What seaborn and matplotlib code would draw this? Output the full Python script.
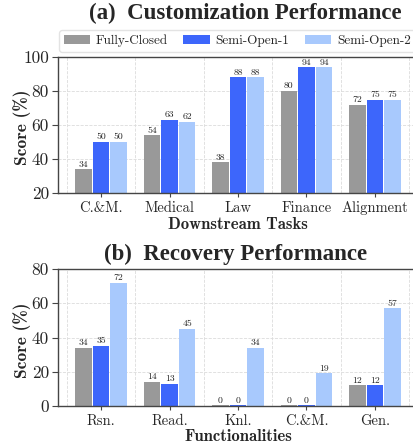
import matplotlib
matplotlib.use("Agg")
import matplotlib.pyplot as plt
import seaborn as sns
import pandas as pd
from matplotlib.ticker import MultipleLocator, FixedLocator, FuncFormatter

# ---- data ----
methods = ["Fully-Closed", "Semi-Open-1", "Semi-Open-2"]
colors = ["#999999", "#3d66fb", "#a8c9fd"]

tasks = ["C.&M.", "Medical", "Law", "Finance", "Alignment"]
custom_closed = [34, 54, 38, 80, 72]
custom_semi1 = [50, 63, 88, 94, 75]
custom_semi2 = [50, 62, 88, 94, 75]

funcs = ["Rsn.", "Read.", "Knl.", "C.&M.", "Gen."]
recov_closed = [34, 14, 0.45, 0.45, 12]
recov_semi1 = [35, 13, 0.45, 0.45, 12]
recov_semi2 = [72, 45, 34, 19, 57]


def long_frame(cats, *series):
    rows = []
    for name, vals in zip(methods, series):
        for c, v in zip(cats, vals):
            rows.append({"cat": c, "method": name, "score": v})
    return pd.DataFrame(rows)


df_a = long_frame(tasks, custom_closed, custom_semi1, custom_semi2)
df_b = long_frame(funcs, recov_closed, recov_semi1, recov_semi2)

sns.set_theme(style="white")
plt.rcParams["font.family"] = ["cmr10", "DejaVu Serif"]
plt.rcParams["axes.formatter.use_mathtext"] = True

W, H = 413, 447
fig = plt.figure(figsize=(W / 100, H / 100), dpi=100)


def px_axes(left, top, right, bottom):
    return fig.add_axes([left / W, 1 - bottom / H, (right - left) / W, (bottom - top) / H])


ax_a = px_axes(58, 57, 418, 193)
ax_b = px_axes(58, 269, 418, 406)

spine_c = "#454545"


def draw(ax, df, cats, ylim, ystep, xlabel):
    sns.barplot(data=df, x="cat", y="score", hue="method", order=cats,
                hue_order=methods, palette=colors, width=0.77, gap=0.06, ax=ax,
                linewidth=0, saturation=1, legend=False)
    for cont in ax.containers:
        ax.bar_label(cont, fmt="{:.0f}", padding=0.5, fontsize=7,
                     family="cmr10", color="#222222")
    ax.set_xlim(-0.63, 4.63)
    ax.set_ylim(*ylim)
    ax.yaxis.set_major_locator(MultipleLocator(ystep))
    ax.yaxis.set_major_formatter(FuncFormatter(lambda v, p: f"{v:.0f}"))
    ax.xaxis.set_minor_locator(FixedLocator([i + 0.5 for i in range(-1, 5)]))
    ax.grid(True, axis="y", which="major", linestyle="--", color="#dcdcdc", linewidth=0.6)
    ax.grid(True, axis="x", which="minor", linestyle="--", color="#dcdcdc", linewidth=0.6)
    ax.set_axisbelow(True)
    for s in ax.spines.values():
        s.set_color(spine_c)
        s.set_linewidth(1.0)
    ax.tick_params(axis="x", which="major", bottom=True, length=3, width=0.8,
                   color=spine_c, labelsize=10.5, pad=3)
    ax.tick_params(axis="x", which="minor", bottom=False)
    ax.tick_params(axis="y", left=True, length=4, width=0.8, color=spine_c,
                   labelsize=12.5, pad=2.5)
    ax.set_xlabel(xlabel, family="cmb10", fontsize=12, labelpad=1)
    ax.set_ylabel("Score (%)", family="cmb10", fontsize=12.5)
    ax.yaxis.set_label_coords(-0.075, 0.48)


draw(ax_a, df_a, tasks, (20, 100), 20, "Downstream Tasks")
draw(ax_b, df_b, funcs, (0, 80), 20, "Functionalities")

fig.text(245 / W, 1 - 13 / H, "(a)  Customization Performance", ha="center",
         va="center", family="Liberation Serif", fontweight="bold", fontsize=16.5)
fig.text(236 / W, 1 - 254 / H, "(b)  Recovery Performance", ha="center",
         va="center", family="Liberation Serif", fontweight="bold", fontsize=16.5)

handles = [plt.Rectangle((0, 0), 1, 1, facecolor=c, edgecolor="none") for c in colors]
fig.legend(handles, methods, loc="upper left", bbox_to_anchor=(59 / W, 1 - 30 / H),
           ncol=3, prop={"family": "cmr10", "size": 9.5},
           frameon=True, fancybox=True, edgecolor="#dddddd", handlelength=2.0,
           handleheight=0.6, handletextpad=0.45, columnspacing=1.15,
           borderpad=0.35, borderaxespad=0)

fig.savefig("out.png", dpi=100)
